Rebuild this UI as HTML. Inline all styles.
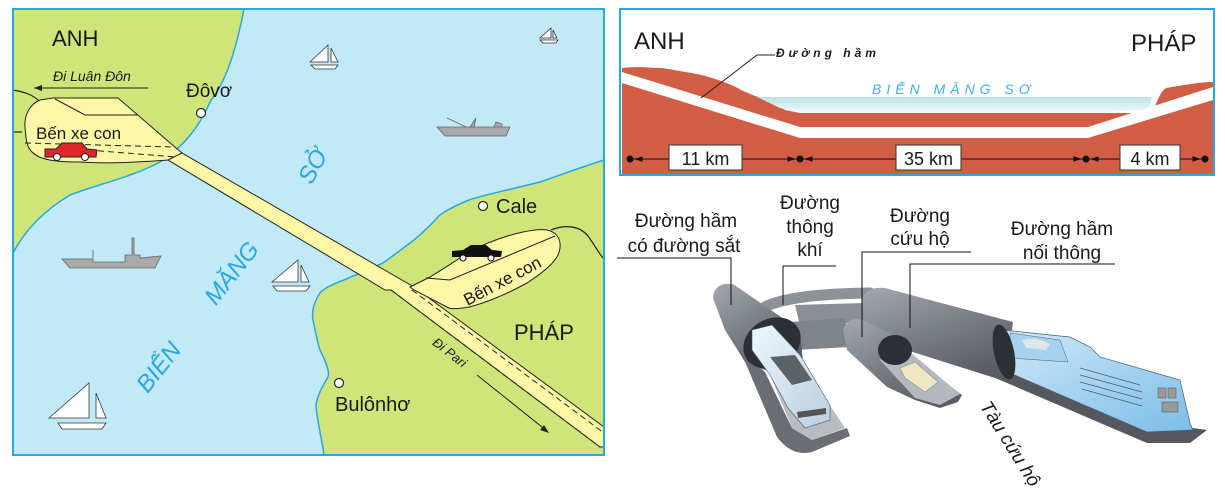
<!DOCTYPE html>
<html><head><meta charset="utf-8"><style>
html,body{margin:0;padding:0;background:#fff;}
svg{display:block;}
text{font-family:"Liberation Sans",sans-serif;}
</style></head><body>
<svg width="1225" height="497" viewBox="0 0 1225 497" xmlns="http://www.w3.org/2000/svg">
<defs>
<linearGradient id="tube" x1="0" y1="0" x2="0.6" y2="1">
<stop offset="0" stop-color="#a3a8ae"/><stop offset="0.5" stop-color="#7d8288"/><stop offset="1" stop-color="#5a5e64"/></linearGradient>
<linearGradient id="water" x1="0" y1="0" x2="0" y2="1">
<stop offset="0" stop-color="#b9e3e6"/><stop offset="1" stop-color="#eef9fa"/></linearGradient>
<linearGradient id="train" x1="0" y1="0" x2="1" y2="1">
<stop offset="0" stop-color="#cfe8f8"/><stop offset="1" stop-color="#7cbde9"/></linearGradient>
<linearGradient id="wtrain" x1="0" y1="0" x2="1" y2="1">
<stop offset="0" stop-color="#eef6fb"/><stop offset="1" stop-color="#b9cfe0"/></linearGradient>
</defs>

<!-- ===== MAP ===== -->
<rect x="13" y="9" width="591" height="446" fill="#c2e9f8"/>
<path d="M13,9 L244,9 C238,40 228,80 211,100 C200,125 186,145 160,162 C130,178 95,185 70,195 C45,210 25,230 13,253 Z" fill="#cfe57a" stroke="#29a8e0" stroke-width="1.5"/>
<path d="M604,160 C585,166 566,173 540,182 C508,190 480,196 469,200 C452,207 440,214 438,217 C428,228 420,235 414,240 C398,252 390,258 383,263 C365,272 350,277 344,280 C330,285 322,290 320,293 C312,305 312,315 313,320 C316,335 318,345 320,350 C326,362 330,372 328,377 C320,390 316,400 316,407 C318,425 322,440 324,455 L604,455 Z" fill="#cfe57a" stroke="#29a8e0" stroke-width="1.5"/>
<path d="M13,90 C25,92 33,95 39,101" fill="none" stroke="#222" stroke-width="1.2"/>
<path d="M13,132 L22,132" stroke="#222" stroke-width="1.2"/>
<path d="M551,230 C565,224 580,226 588,236 C594,244 598,252 603,258" fill="none" stroke="#222" stroke-width="1.2"/>
<path d="M172,151 L182,153 L414,287 L604,427 L604,447 L600,447 L391,290 L385,290 L168,160 Z" fill="#fbf7a6" stroke="#222" stroke-width="1"/>
<path d="M25,127 C24,115 30,104 40,100 L53,98 L118,98 L176,148 L182,153 L168,160 C140,162 110,164 80,162 C55,162 40,160 32,152 C26,146 26,138 25,127 Z" fill="#fbf7a6" stroke="#222" stroke-width="1"/>
<path d="M55,99 L85,115 L138,115" fill="none" stroke="#222" stroke-width="1"/>
<path d="M25,143 L172,147" stroke="#222" stroke-width="1" stroke-dasharray="6,4"/>
<path d="M88,150 L176,157" stroke="#222" stroke-width="1" stroke-dasharray="6,4"/>
<path d="M410,287 L430,277 C455,262 470,250 488,243 C510,234 535,228 547,230 C556,232 561,238 560,248 C559,258 550,268 527,283 C505,295 485,303 469,307 C460,309 450,309 449,308 L414,290 Z" fill="#fbf7a6" stroke="#222" stroke-width="1"/>
<path d="M426,278 L450,280 L555,236" fill="none" stroke="#222" stroke-width="1"/>
<path d="M391,290 L600,447" stroke="#222" stroke-width="1" stroke-dasharray="6,4"/>
<path d="M412,290 L604,433" stroke="#222" stroke-width="1" stroke-dasharray="6,4"/>
<g><path d="M45,149 L56,149 L62,143 L82,143 L87,149 L97,150 L96,157 L45,157 Z" fill="#e0262b" stroke="#222" stroke-width="1"/>
<circle cx="57" cy="157" r="3.5" fill="#fff" stroke="#222"/><circle cx="85" cy="157" r="3.5" fill="#fff" stroke="#222"/></g>
<g><path d="M452,251 L463,250 L471,245 L486,245 L492,250 L502,251 L501,257 L452,257 Z" fill="#111"/>
<circle cx="463" cy="258" r="3" fill="#fff" stroke="#111"/><circle cx="491" cy="258" r="3" fill="#fff" stroke="#111"/></g>
<text x="52" y="46" font-size="22" fill="#1a1a1a">ANH</text>
<text x="53" y="81" font-size="14" font-style="italic" fill="#1a1a1a">Đi Luân Đôn</text>
<path d="M148,88 L34,88" stroke="#222" stroke-width="1"/><path d="M34,88 L42,85 L42,91 Z" fill="#222"/>
<text x="186" y="97" font-size="19" fill="#1a1a1a">Đôvơ</text>
<circle cx="201" cy="113" r="4.5" fill="#fff" stroke="#222" stroke-width="1.2"/>
<text x="36" y="139" font-size="17" fill="#1a1a1a">Bến xe con</text>
<text x="496" y="213" font-size="20" fill="#1a1a1a">Cale</text>
<circle cx="483" cy="206" r="4.5" fill="#fff" stroke="#222" stroke-width="1.2"/>
<text transform="translate(505,286) rotate(-28)" text-anchor="middle" font-size="17" fill="#1a1a1a">Bến xe con</text>
<text x="514" y="340" font-size="22" fill="#1a1a1a">PHÁP</text>
<text transform="translate(447,356) rotate(38)" text-anchor="middle" font-size="13" font-style="italic" fill="#1a1a1a">Đi Pari</text>
<path d="M477,375 L547,431" stroke="#222" stroke-width="1"/><path d="M549,433 L540,430 L544,425 Z" fill="#222"/>
<circle cx="339" cy="383" r="4.5" fill="#fff" stroke="#222" stroke-width="1.2"/>
<text x="335" y="411" font-size="20" fill="#1a1a1a">Bulônhơ</text>
<g font-family="Liberation Serif,serif" font-size="24" fill="#29a8e0" font-style="italic">
<text transform="translate(320,170) rotate(-62)" text-anchor="middle">SỞ</text>
<text transform="translate(238,278) rotate(-52)" text-anchor="middle">MĂNG</text>
<text transform="translate(165,372) rotate(-52)" text-anchor="middle">BIỂN</text>
</g>
<g fill="#fff" stroke="#333" stroke-width="0.8">
<path d="M310,62 L328,45 L328,62 Z"/><path d="M331,62 L331,48 L338,62 Z"/><path d="M311,65 L338,65 L335,69 L315,69 Z"/>
<path d="M540,38 L551,28 L551,38 Z"/><path d="M553,38 L553,30 L557,38 Z"/><path d="M540,40 L558,40 L556,43 L543,43 Z"/>
<path d="M272,282 L298,260 L298,282 Z"/><path d="M301,282 L301,265 L309,282 Z"/><path d="M273,286 L310,286 L306,291 L277,291 Z"/>
<path d="M49,418 L89,383 L89,418 Z"/><path d="M96,418 L96,393 L106,418 Z"/><path d="M58,423 L106,423 L102,429 L62,429 Z"/>
</g>
<path d="M437,127 L510,127 L506,136 L445,136 Z M470,127 L476,118 L474,127 M447,118 L466,127 M494,127 L496,122 L502,124 L502,127" fill="#aaa" stroke="#666" stroke-width="0.8"/>
<path d="M62,259 L93,259 L93,250 L93,262 L125,262 L125,255 L132,255 L132,238 L134,238 L134,255 L140,255 L140,258 L161,256 L155,268 L70,268 Z" fill="#aaa" stroke="#666" stroke-width="0.8"/>
<rect x="13" y="9" width="591" height="446" fill="none" stroke="#29a8e0" stroke-width="2"/>

<!-- ===== CROSS SECTION ===== -->
<rect x="620" y="9" width="594" height="166" fill="#fff"/>
<path d="M622,68 C640,66 650,68 662,68 C685,72 700,74 709,77 C725,82 735,86 741,90 C752,95 760,98 769,100 L785,110 L800,113 L1152,113 C1158,100 1160,92 1166,88 C1185,85 1200,82 1213,82 L1213,175 L622,175 Z" fill="#d15d44"/>
<path d="M757,97 L1152,97 L1148,110 L1100,112 L800,112 L780,108 Z" fill="url(#water)"/>
<path d="M622,72 L800,127 L1088,127 L1213,87 L1213,100 L1088,138 L800,138 L622,83 Z" fill="#fff"/>
<path d="M701,98 L757,55 L775,55" fill="none" stroke="#222" stroke-width="1"/>
<text x="634" y="49" font-size="24" fill="#1a1a1a">ANH</text>
<text x="1131" y="51" font-size="24" fill="#1a1a1a">PHÁP</text>
<text x="776" y="57" font-size="12" font-weight="bold" font-style="italic" letter-spacing="4" fill="#1a1a1a">Đường hầm</text>
<text x="872" y="94" font-family="Liberation Serif,serif" font-size="14" font-style="italic" letter-spacing="5" fill="#3cb3e6">BIỂN MĂNG SƠ</text>
<g stroke="#111" stroke-width="1" fill="#111">
<line x1="630" y1="159" x2="800" y2="159"/><line x1="800" y1="159" x2="1086" y2="159"/><line x1="1086" y1="159" x2="1205" y2="159"/>
<circle cx="630" cy="159" r="3"/><circle cx="800" cy="159" r="3"/><circle cx="1086" cy="159" r="3"/><circle cx="1205" cy="159" r="3"/>
<path d="M636,159 L642,157 L642,161 Z"/><path d="M794,159 L788,157 L788,161 Z"/>
<path d="M806,159 L812,157 L812,161 Z"/><path d="M1080,159 L1074,157 L1074,161 Z"/>
<path d="M1092,159 L1098,157 L1098,161 Z"/><path d="M1199,159 L1193,157 L1193,161 Z"/>
</g>
<g fill="#fff" stroke="#333" stroke-width="1">
<rect x="669" y="145" width="73" height="25"/><rect x="896" y="145" width="65" height="25"/><rect x="1120" y="145" width="60" height="25"/></g>
<g font-size="18" fill="#1a1a1a" text-anchor="middle">
<text x="705.5" y="165">11 km</text><text x="928.5" y="165">35 km</text><text x="1150" y="165">4 km</text></g>
<rect x="620" y="9" width="594" height="166" fill="none" stroke="#29a8e0" stroke-width="2"/>

<!-- ===== TUNNEL 3D ===== -->
<!-- ventilation pipe -->
<path d="M765,307 Q790,294 870,293" fill="none" stroke="#8d9298" stroke-width="11" stroke-linecap="round"/>
<!-- upper passage & lower passage -->
<path d="M795,305 L865,303 L868,322 L800,325 Z" fill="#8a8f95"/>
<path d="M790,322 L845,318 L850,347 L795,350 Z" fill="#7f848a"/>
<path d="M878,310 L925,305 L930,330 L882,333 Z" fill="#858a90"/>
<!-- right tube body -->
<path d="M862,300 Q866,286 885,288 L1013,322 L1005,382 L995,378 L900,348 L865,322 Z" fill="url(#tube)"/>
<!-- right train -->
<path d="M1000,380 L1147,443 L1190,443 L1207,430 L1193,428 L1147,432 L1003,370 Z" fill="#55595f"/>
<path d="M1003,330 L1070,337 L1090,347 L1100,357 L1180,380 L1190,423 L1193,430 L1147,432 L1003,370 Z" fill="url(#train)" stroke="#4a6070" stroke-width="0.7"/>
<path d="M1010,333 L1060,340 L1068,362 L1010,358 Z" fill="#a7d2ef" stroke="#4a6070" stroke-width="0.5"/>
<path d="M1022,340 Q1035,336 1050,344 L1046,350 L1026,348 Z" fill="#dfe6ea"/>
<g stroke="#4a6070" stroke-width="0.8"><line x1="1080" y1="368" x2="1140" y2="385"/><line x1="1080" y1="375" x2="1142" y2="392"/><line x1="1080" y1="382" x2="1142" y2="399"/><line x1="1082" y1="389" x2="1142" y2="406"/></g>
<rect x="1158" y="388" width="8" height="10" fill="#999" stroke="#555" stroke-width="0.5"/><rect x="1168" y="388" width="8" height="10" fill="#999" stroke="#555" stroke-width="0.5"/><rect x="1162" y="402" width="16" height="10" fill="#999" stroke="#555" stroke-width="0.5"/>
<ellipse cx="1004" cy="352" rx="10" ry="28" fill="#2c2f34" transform="rotate(-12 1004 352)"/>
<!-- middle tube -->
<path d="M843,330 Q848,316 862,320 L905,340 L915,360 L962,395 L958,402 L940,408 L915,400 L887,387 L847,350 Z" fill="url(#tube)"/>
<path d="M880,360 L910,352 L960,394 L940,405 L915,398 Z" fill="#b5b9bd"/>
<ellipse cx="895" cy="350" rx="17" ry="15" fill="#2c2f34"/>
<path d="M900,368 L915,362 L938,382 L925,392 L905,378 Z" fill="#efe6c2" stroke="#777" stroke-width="0.5"/>
<!-- left tube -->
<path d="M713,298 Q714,282 733,284 L800,330 L803,362 L770,372 L745,362 L725,330 Z" fill="url(#tube)"/>
<path d="M740,350 L777,437 Q792,457 812,452 L850,436 L847,428 L812,440 L792,428 L765,372 Z" fill="#6a6e74"/>
<path d="M760,350 L800,360 L845,428 L812,440 L792,428 Z" fill="#b8bcc0"/>
<ellipse cx="772" cy="343" rx="30" ry="24" fill="#2c2f34" transform="rotate(-30 772 343)"/>
<path d="M752,330 L772,325 L800,355 L830,405 L830,420 L805,428 L788,408 L770,375 L752,350 Z" fill="url(#wtrain)" stroke="#556" stroke-width="0.6"/>
<path d="M770,357 L795,355 L812,380 L792,385 Z" fill="#5d6168"/>
<path d="M797,412 L826,408 L826,414 L798,418 Z" fill="#555"/>
<!-- leader lines -->
<g stroke="#111" stroke-width="1" fill="none">
<path d="M617,258 L731,258 L731,305"/>
<path d="M836,266 L783,266 L783,305"/>
<path d="M971,252 L862,252 L862,337"/>
<path d="M1115,264 L910,264 L910,328"/>
</g>
<g font-size="19" fill="#1a1a1a" text-anchor="middle">
<text x="686" y="227">Đường hầm</text><text x="684" y="252">có đường sắt</text>
<text x="810" y="209">Đường</text><text x="810" y="233">thông</text><text x="810" y="256">khí</text>
<text x="920" y="222">Đường</text><text x="920" y="245">cứu hộ</text>
<text x="1062" y="235">Đường hầm</text><text x="1062" y="259">nối thông</text>
</g>
<text transform="translate(1005,447) rotate(58)" text-anchor="middle" font-size="19" font-style="italic" fill="#1a1a1a">Tàu cứu hộ</text>
</svg>
</body></html>
